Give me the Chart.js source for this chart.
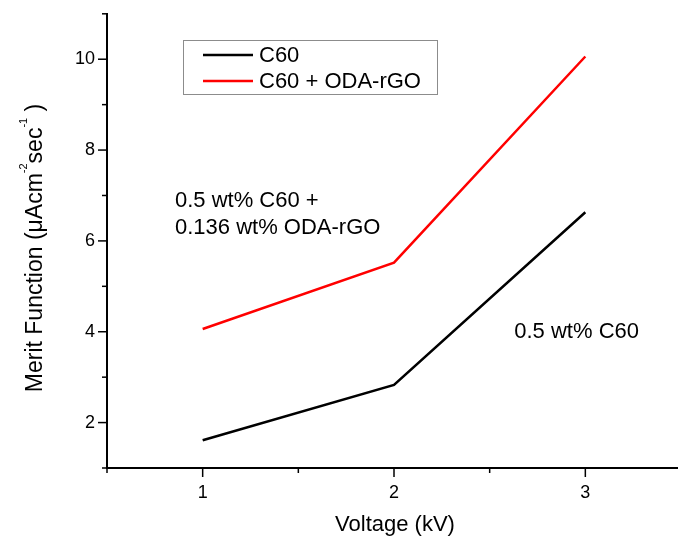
<!DOCTYPE html>
<html>
<head>
<meta charset="utf-8">
<script src="https://cdn.jsdelivr.net/npm/chart.js@4.4.1/dist/chart.umd.min.js"></script>
<style>
  html, body { margin: 0; padding: 0; background: #fff; overflow: hidden; }
  #wrap { width: 686px; height: 540px; }
</style>
</head>
<body>
<div id="wrap"><canvas id="myChart" width="686" height="540"></canvas></div>
<script>
// values
const voltages = [1, 2, 3];
const c60Values = [1.61, 2.83, 6.63];
const odaValues = [4.06, 5.52, 10.06];
const seriesNames = ["C60", "C60 + ODA-rGO"];
const seriesColors = ["#000000", "#ff0000"];
const xTickLabels = [1, 2, 3];
const yTickLabels = [2, 4, 6, 8, 10];

const FONT = "'Liberation Sans', Arial, sans-serif";
Chart.defaults.font.family = FONT;
Chart.defaults.color = "#000";

// tick marks: long at labelled values, short in between
function drawTicks(ctx, scale, labels, vertical) {
  ctx.save();
  ctx.strokeStyle = "#000";
  ctx.lineWidth = 1.5;
  scale.ticks.forEach((t) => {
    const len = labels.includes(t.value) ? 9 : 5;
    const p = scale.getPixelForValue(t.value);
    ctx.beginPath();
    if (vertical) {
      ctx.moveTo(scale.right, p);
      ctx.lineTo(scale.right - len, p);
    } else {
      ctx.moveTo(p, scale.top);
      ctx.lineTo(p, scale.top + len);
    }
    ctx.stroke();
  });
  ctx.restore();
}

function drawYTitle(ctx) {
  const parts = [
    { text: "Merit Function (\u03bcAcm", sup: false },
    { text: "-2", sup: true },
    { text: "sec", sup: false },
    { text: "-1", sup: true },
    { text: " )", sup: false },
  ];
  ctx.save();
  ctx.translate(42, 248);
  ctx.rotate(-Math.PI / 2);
  let total = 0;
  parts.forEach((p) => {
    ctx.font = (p.sup ? "11px " : "23px ") + FONT;
    p.w = ctx.measureText(p.text).width;
    total += p.w;
  });
  let x = -total / 2;
  ctx.fillStyle = "#000";
  ctx.textBaseline = "alphabetic";
  ctx.textAlign = "left";
  parts.forEach((p) => {
    ctx.font = (p.sup ? "11px " : "23px ") + FONT;
    ctx.fillText(p.text, x, p.sup ? -15 : 0);
    x += p.w;
  });
  ctx.restore();
}

function drawLegend(ctx, chart) {
  ctx.save();
  ctx.strokeStyle = "#8c8c8c";
  ctx.lineWidth = 1;
  ctx.strokeRect(183.5, 40.5, 254, 54);
  ctx.font = "22px " + FONT;
  ctx.textBaseline = "middle";
  ctx.textAlign = "left";
  ctx.fillStyle = "#000";
  const rows = [55, 81];
  chart.data.datasets.forEach((ds, i) => {
    ctx.strokeStyle = ds.borderColor;
    ctx.lineWidth = 2.5;
    ctx.beginPath();
    ctx.moveTo(203, rows[i]);
    ctx.lineTo(253, rows[i]);
    ctx.stroke();
    ctx.fillText(ds.label, 259, rows[i] + 1);
  });
  ctx.restore();
}

const extrasPlugin = {
  id: "extras",
  afterDraw(chart) {
    const ctx = chart.ctx;
    drawTicks(ctx, chart.scales.x, xTickLabels, false);
    drawTicks(ctx, chart.scales.y, yTickLabels, true);
    drawLegend(ctx, chart);
    drawYTitle(ctx);

    ctx.save();
    ctx.fillStyle = "#000";
    ctx.font = "22px " + FONT;
    ctx.textBaseline = "alphabetic";
    ctx.textAlign = "left";
    ctx.fillText("0.5 wt% C60 +", 175, 207);
    ctx.fillText("0.136 wt% ODA-rGO", 175, 234);
    ctx.textAlign = "right";
    ctx.fillText("0.5 wt% C60", 639, 338);
    ctx.textAlign = "center";
    ctx.fillText("Voltage (kV)", 395, 531);
    ctx.restore();
  },
};

new Chart("myChart", {
  type: "line",
  data: {
    labels: voltages,
    datasets: [
      {
        label: seriesNames[0],
        data: voltages.map((v, i) => ({ x: v, y: c60Values[i] })),
        borderColor: seriesColors[0],
        borderWidth: 2.5,
        pointRadius: 0,
        tension: 0,
        fill: false,
      },
      {
        label: seriesNames[1],
        data: voltages.map((v, i) => ({ x: v, y: odaValues[i] })),
        borderColor: seriesColors[1],
        borderWidth: 2.5,
        pointRadius: 0,
        tension: 0,
        fill: false,
      },
    ],
  },
  options: {
    responsive: false,
    animation: false,
    layout: { padding: { top: 7, right: 3, left: 0, bottom: 0 } },
    plugins: { legend: { display: false }, tooltip: { enabled: false } },
    scales: {
      x: {
        type: "linear",
        min: 0.5,
        max: 3.5,
        grid: { display: true, drawOnChartArea: false, drawTicks: true, tickLength: 9, tickColor: "transparent" },
        border: { display: true, color: "#000", width: 2 },
        ticks: {
          stepSize: 0.5,
          padding: 5,
          maxRotation: 0,
          autoSkip: false,
          font: { size: 18 },
          color: "#000",
          callback: (v) => (xTickLabels.includes(v) ? String(v) : ""),
        },
        afterFit: (s) => { s.height = 72; },
      },
      y: {
        min: 1,
        max: 11,
        grid: { display: true, drawOnChartArea: false, drawTicks: true, tickLength: 9, tickColor: "transparent" },
        border: { display: true, color: "#000", width: 2 },
        ticks: {
          stepSize: 1,
          padding: 3,
          autoSkip: false,
          font: { size: 18 },
          color: "#000",
          callback: (v) => (yTickLabels.includes(v) ? String(v) : ""),
        },
        afterFit: (s) => { s.width = 107; },
      },
    },
  },
  plugins: [extrasPlugin],
});
</script>
</body>
</html>
